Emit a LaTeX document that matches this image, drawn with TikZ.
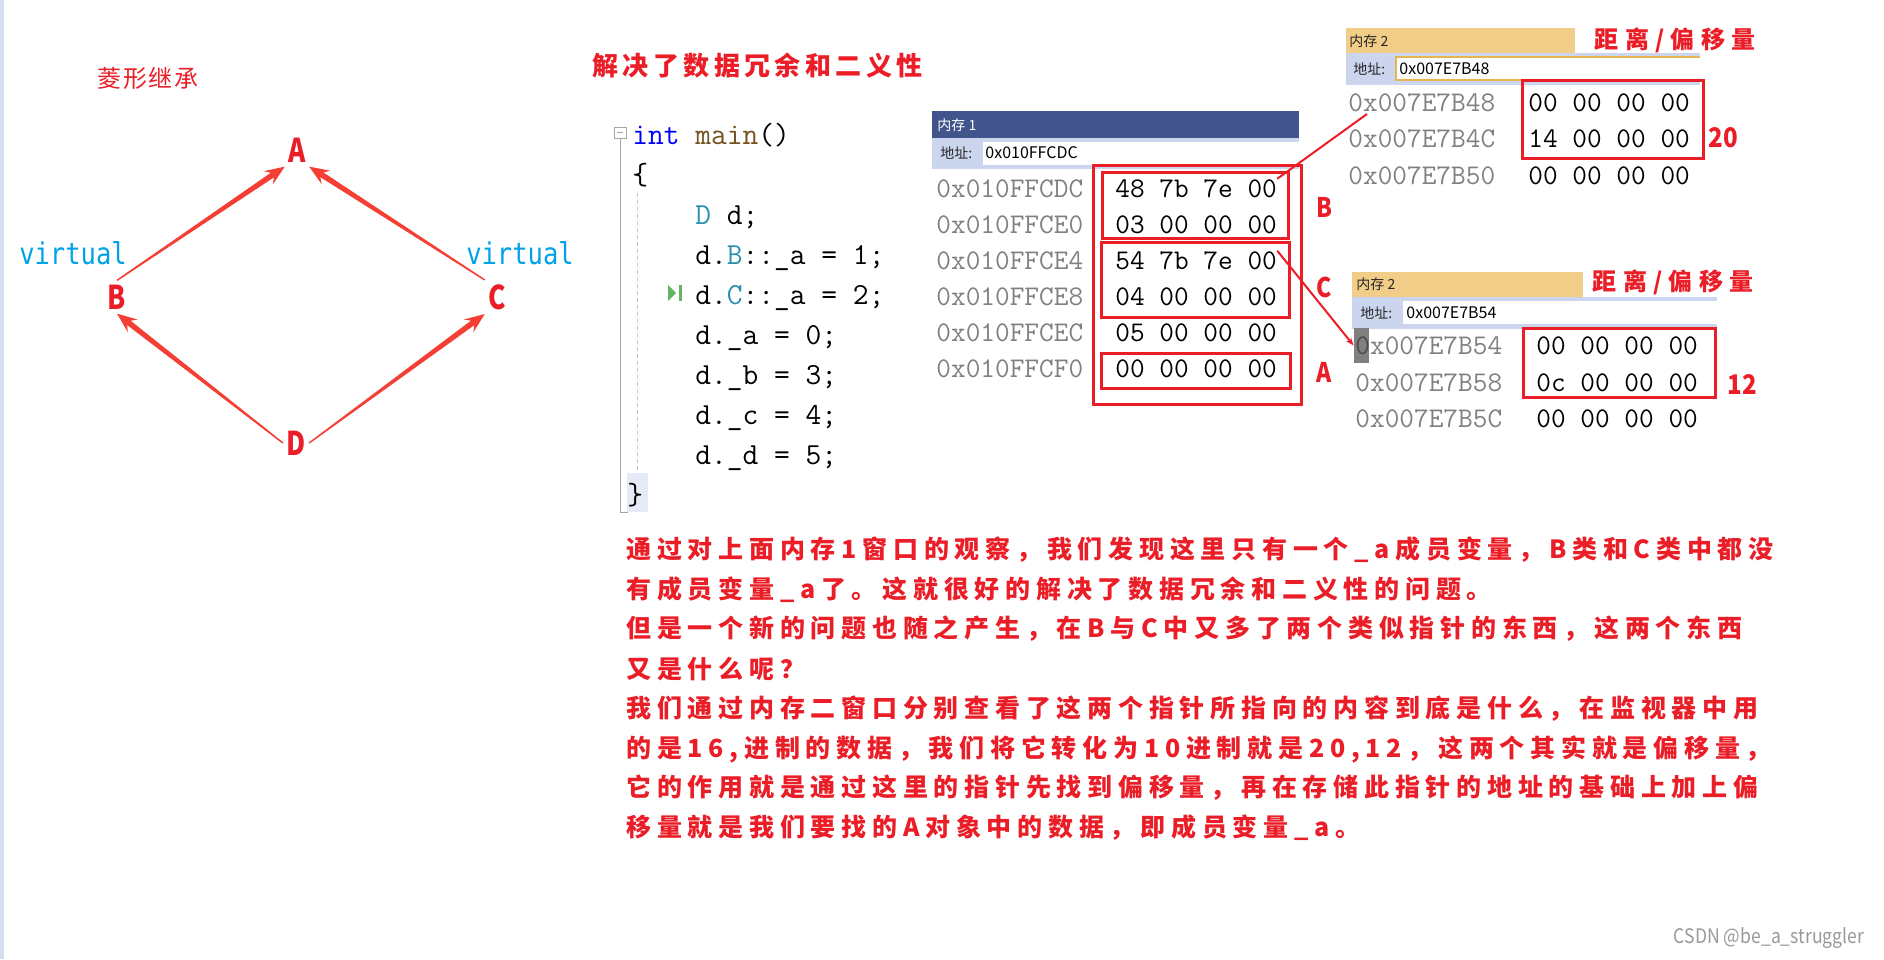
\documentclass[tikz,border=0pt]{standalone}
\usepackage{fontspec}
\newfontfamily\cjk{Noto Sans CJK SC}
\newfontfamily\virtfont{DejaVu Sans Mono}
\usetikzlibrary{arrows.meta,calc}

\definecolor{redmark}{RGB}{235,30,40}
\definecolor{arrred}{RGB}{245,62,52}
\definecolor{virtblue}{RGB}{0,162,232}
\definecolor{addrgray}{RGB}{128,128,128}
\definecolor{kwblue}{RGB}{0,0,255}
\definecolor{fnbrown}{RGB}{116,83,31}
\definecolor{typeteal}{RGB}{43,145,175}
\definecolor{barblue}{RGB}{65,85,140}
\definecolor{bartan}{RGB}{242,205,135}
\definecolor{barlav}{RGB}{204,213,238}
\definecolor{boxorange}{RGB}{232,182,80}
\definecolor{hlgray}{RGB}{128,128,128}
\definecolor{guidegray}{RGB}{165,165,165}
\definecolor{bpgreen}{RGB}{100,180,100}

% tapered arrow from one anchor to another
\newcommand{\taperarrow}[2]{%
  \path (#1) coordinate (tS) (#2) coordinate (tE);
  \path ($(tE)!10pt!(tS)$) coordinate (tB) ($(tE)!7.5pt!(tS)$) coordinate (tN);
  \fill[arrred] ($(tS)!0.35pt!90:(tE)$) -- ($(tN)!1.4pt!90:(tE)$) -- ($(tB)!4pt!90:(tE)$)
    -- (tE) -- ($(tB)!4pt!-90:(tE)$) -- ($(tN)!1.4pt!-90:(tE)$) -- ($(tS)!0.35pt!-90:(tE)$) -- cycle;
}

\begin{document}
\begin{tikzpicture}[x=0.5pt,y=-0.5pt]
\tikzstyle{letter}=[font=\cjk\bfseries\fontsize{16.4}{16}\selectfont, text=redmark, xscale=0.8, inner sep=2pt]
\tikzstyle{virt}=[font=\virtfont\fontsize{15}{15}\selectfont, text=virtblue, xscale=0.85, inner sep=0pt]
\tikzstyle{code}=[font=\ttfamily\fontsize{15.3}{15}\selectfont, anchor=base west, inner sep=0pt]
\tikzstyle{hex}=[font=\ttfamily\fontsize{14.25}{14}\selectfont, anchor=base west, inner sep=0pt]
\tikzstyle{addr}=[hex, text=addrgray]
\tikzstyle{ui}=[font=\cjk\fontsize{7}{7}\selectfont, anchor=west, inner sep=0pt, text=black!85]
\tikzstyle{uiaddr}=[font=\cjk\fontsize{8}{8}\selectfont, anchor=west, inner sep=0pt]
\tikzstyle{tag}=[font=\cjk\bfseries\fontsize{13.5}{13}\selectfont, text=redmark, xscale=0.85, inner sep=0pt]
\tikzstyle{head}=[font={\cjk\bfseries\fontsize{13}{13}\selectfont\addfontfeature{LetterSpace=17}}, text=redmark, inner sep=0pt]
\tikzstyle{body}=[font={\cjk\bfseries\fontsize{12.5}{12}\selectfont\addfontfeature{LetterSpace=23}}, text=redmark, anchor=west, inner sep=0pt]
\tikzstyle{redbox}=[draw=redmark, line width=1.5pt]
\useasboundingbox (0,0) rectangle (1884,959);
\fill[white] (0,0) rectangle (1884,959);
\fill[barlav!80] (0,0) rectangle (4,959);

% diamond
\node (title) [font={\cjk\fontsize{12}{12}\selectfont\addfontfeature{LetterSpace=8}}, text=redmark, inner sep=0pt] at (148,78) {菱形继承};
\node (A) [letter] at (297,150) {A};
\node (B) [letter] at (117,297) {B};
\node (C) [letter] at (497,297) {C};
\node (D) [letter] at (296,443) {D};
\node (vb) [virt] at (73,253) {virtual};
\node (vc) [virt] at (520,253) {virtual};
\taperarrow{B.north}{A.south west}
\taperarrow{C.north west}{A.south east}
\taperarrow{D.west}{B.south}
\taperarrow{D.east}{C.south west}

% code
\node (head) [head, anchor=west] at (592,66) {解决了数据冗余和二义性};
\fill[barlav!50] (627,473) rectangle (648,512);
\draw[guidegray, line width=0.5pt] (614,127) rectangle (626,138);
\draw[guidegray, line width=0.5pt] (617,132.5) -- (623,132.5);
\draw[guidegray, line width=0.5pt] (620,138) -- (620,512) -- (628,512);
\draw[guidegray!60, line width=0.5pt, dash pattern=on 2pt off 1.5pt] (637,193) -- (637,470);
\fill[bpgreen] (668,285) -- (676,293) -- (668,301) -- cycle;
\fill[bpgreen] (679,285) rectangle (682,301);
\node (c0) [code] at (632,144) {\textcolor{kwblue}{int} \textcolor{fnbrown}{main}()};
\node (c1) [code] at (632,184) {\{};
\node (c2) [code] at (695,224) {\textcolor{typeteal}{D} d;};
\node (c3) [code] at (695,264) {d.\textcolor{typeteal}{B}::\_a = 1;};
\node (c4) [code] at (695,304) {d.\textcolor{typeteal}{C}::\_a = 2;};
\node (c5) [code] at (695,344) {d.\_a = 0;};
\node (c6) [code] at (695,384) {d.\_b = 3;};
\node (c7) [code] at (695,424) {d.\_c = 4;};
\node (c8) [code] at (695,464) {d.\_d = 5;};
\node (c9) [code] at (627,504) {\}};

% memory 1
\fill[barblue] (932,111) rectangle (1299,138);
\fill[barlav] (932,138) rectangle (1299,169);
\fill[white] (983,142) rectangle (1299,165);
\node (m1t) [ui, text=white] at (937,125) {内存 1};
\node (m1l) [ui] at (940,153) {地址:};
\node (m1a) [uiaddr] at (985,153) {0x010FFCDC};
\node (a1) [addr] at (936,197) {0x010FFCDC};
\node (a2) [addr] at (936,233) {0x010FFCE0};
\node (a3) [addr] at (936,269) {0x010FFCE4};
\node (a4) [addr] at (936,305) {0x010FFCE8};
\node (a5) [addr] at (936,341) {0x010FFCEC};
\node (a6) [addr] at (936,377) {0x010FFCF0};
\node (v1) [hex] at (1115,197) {48 7b 7e 00};
\node (v2) [hex] at (1115,233) {03 00 00 00};
\node (v3) [hex] at (1115,269) {54 7b 7e 00};
\node (v4) [hex] at (1115,305) {04 00 00 00};
\node (v5) [hex] at (1115,341) {05 00 00 00};
\node (v6) [hex] at (1115,377) {00 00 00 00};
\draw[redbox] (1093,165) rectangle (1301,404);
\draw[redbox] (1102,172) rectangle (1288,238);
\draw[redbox] (1101,242) rectangle (1289,317);
\draw[redbox] (1101,353) rectangle (1290,388);
\node (tB) [tag] at (1324,207) {B};
\node (tC) [tag] at (1324,287) {C};
\node (tA) [tag] at (1324,372) {A};

% memory 2, first window
\fill[bartan] (1346,28) rectangle (1575,53);
\fill[barlav] (1346,53) rectangle (1700,85);
\fill[white] (1396,57) rectangle (1700,80);
\draw[boxorange, line width=0.6pt] (1700,57) -- (1396,57) -- (1396,80) -- (1700,80);
\node (m2t) [ui] at (1349,41) {内存 2};
\node (m2l) [ui] at (1353,69) {地址:};
\node (m2a) [uiaddr] at (1399,69) {0x007E7B48};
\node (off1) [head, font={\cjk\bfseries\fontsize{12}{12}\selectfont\addfontfeature{LetterSpace=26}}] at (1675,40) {距离/偏移量};
\node (b1) [addr] at (1348,111) {0x007E7B48};
\node (b2) [addr] at (1348,147) {0x007E7B4C};
\node (b3) [addr] at (1348,184) {0x007E7B50};
\node (w1) [hex] at (1528,111) {00 00 00 00};
\node (w2) [hex] at (1528,147) {14 00 00 00};
\node (w3) [hex] at (1528,184) {00 00 00 00};
\draw[redbox] (1522,80) rectangle (1703,158);
\node (n20) [tag, xscale=1.05] at (1723,138) {20};

% memory 2, second window
\fill[bartan] (1352,272) rectangle (1583,297);
\fill[barlav] (1352,297) rectangle (1717,329);
\fill[white] (1403,301) rectangle (1717,324);
\node (m3t) [ui] at (1356,284) {内存 2};
\node (m3l) [ui] at (1360,313) {地址:};
\node (m3a) [uiaddr] at (1406,313) {0x007E7B54};
\node (off2) [head, font={\cjk\bfseries\fontsize{12}{12}\selectfont\addfontfeature{LetterSpace=26}}] at (1673,282) {距离/偏移量};
\node (hl) [fill=hlgray, minimum width=7.5pt, minimum height=17.5pt, inner sep=0pt] at (1361.5,345.5) {};
\node (d1) [addr] at (1355,354) {\textcolor{black!70}{0}x007E7B54};
\node (d2) [addr] at (1355,391) {0x007E7B58};
\node (d3) [addr] at (1355,427) {0x007E7B5C};
\node (e1) [hex] at (1536,354) {00 00 00 00};
\node (e2) [hex] at (1536,391) {0c 00 00 00};
\node (e3) [hex] at (1536,427) {00 00 00 00};
\draw[redbox] (1523,328) rectangle (1715,397);
\node (n12) [tag, xscale=1.05] at (1742,385) {12};

% pointers
\coordinate (p1) at (1367,114);
\draw[redmark, line width=1pt] (v1.north east) -- (p1);
\draw[redmark, line width=1pt, -{Stealth[length=4pt,width=3pt]}] (v3.north east) -- (hl.west);

% text
\node (t1) [body] at (626,550) {通过对上面内存1窗口的观察，我们发现这里只有一个\_a成员变量，B类和C类中都没};
\node (t2) [body] at (626,590) {有成员变量\_a了。这就很好的解决了数据冗余和二义性的问题。};
\node (t3) [body] at (626,629) {但是一个新的问题也随之产生，在B与C中又多了两个类似指针的东西，这两个东西};
\node (t4) [body] at (626,669) {又是什么呢？};
\node (t5) [body] at (626,709) {我们通过内存二窗口分别查看了这两个指针所指向的内容到底是什么，在监视器中用};
\node (t6) [body] at (626,749) {的是16,进制的数据，我们将它转化为10进制就是20,12，这两个其实就是偏移量，};
\node (t7) [body] at (626,788) {它的作用就是通过这里的指针先找到偏移量，再在存储此指针的地址的基础上加上偏};
\node (t8) [body] at (626,828) {移量就是我们要找的A对象中的数据，即成员变量\_a。};
\node (wm) [font=\cjk\fontsize{10}{10}\selectfont, text=black!40, xscale=0.88, inner sep=0pt] at (1769,938) {CSDN @be\_a\_struggler};
\end{tikzpicture}
\end{document}
